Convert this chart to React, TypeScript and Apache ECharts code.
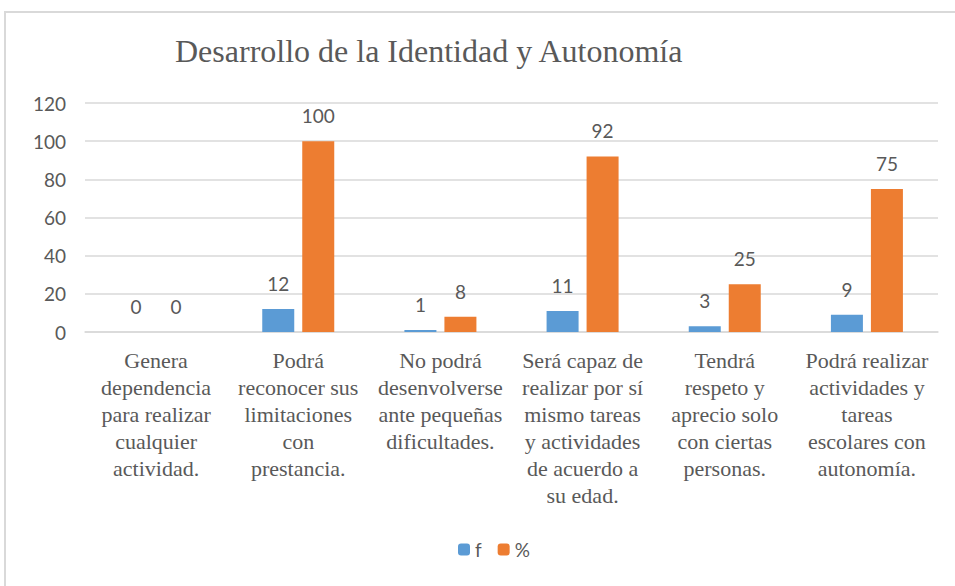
import React, { useEffect, useRef } from "react";
import * as echarts from "echarts";

const categories = [
  "Genera\ndependencia\npara realizar\ncualquier\nactividad.",
  "Podrá\nreconocer sus\nlimitaciones\ncon\nprestancia.",
  "No podrá\ndesenvolverse\nante pequeñas\ndificultades.",
  "Será capaz de\nrealizar por sí\nmismo tareas\ny actividades\nde acuerdo a\nsu edad.",
  "Tendrá\nrespeto y\naprecio solo\ncon ciertas\npersonas.",
  "Podrá realizar\nactividades y\ntareas\nescolares con\nautonomía.",
];
const fValues = [0, 12, 1, 11, 3, 9];
const pctValues = [0, 100, 8, 92, 25, 75];
const yTicks = { min: 0, max: 120, interval: 20 };

const TEXT = "#595959";
const SANS = "Lato, 'Open Sans', sans-serif";
const SERIF = "'Liberation Serif', 'DejaVu Serif', serif";

export default function App() {
  const ref = useRef<HTMLDivElement>(null);
  useEffect(() => {
    if (!ref.current) return;
    const chart = echarts.init(ref.current, undefined, { renderer: "svg" });
    const label = {
      show: true,
      position: "top",
      distance: 16,
      color: TEXT,
      fontSize: 19,
      fontFamily: SANS,
    };
    chart.setOption({
      animation: false,
      backgroundColor: "#ffffff",
      title: {
        text: "Desarrollo de la Identidad y Autonomía",
        left: 170,
        top: 30,
        textStyle: { fontFamily: SERIF, fontSize: 32, fontWeight: "normal", color: TEXT },
      },
      graphic: [
        {
          type: "rect",
          shape: { x: 5, y: 12, width: 970, height: 600 },
          style: { fill: "none", stroke: "#D9D9D9", lineWidth: 2 },
          silent: true,
        },
      ],
      legend: {
        bottom: 22,
        left: 453,
        itemWidth: 12,
        itemHeight: 12,
        itemGap: 16,
        textStyle: { color: TEXT, fontSize: 19, fontFamily: SANS },
        data: ["f", "%"],
      },
      grid: { left: 85, right: 17, top: 103, bottom: 254, containLabel: false },
      xAxis: {
        type: "category",
        data: categories,
        axisLine: { lineStyle: { color: "#D9D9D9", width: 1.5 } },
        axisTick: { show: false },
        axisLabel: {
          interval: 0,
          margin: 15,
          color: TEXT,
          fontSize: 22,
          lineHeight: 27,
          fontFamily: SERIF,
          align: "center",
          verticalAlign: "top",
        },
      },
      yAxis: {
        type: "value",
        min: yTicks.min,
        max: yTicks.max,
        interval: yTicks.interval,
        axisLine: { show: false },
        axisTick: { show: false },
        splitLine: { lineStyle: { color: "#D9D9D9", width: 1.5 } },
        axisLabel: { margin: 19, color: TEXT, fontSize: 19, fontFamily: SANS },
      },
      series: [
        {
          name: "f",
          type: "bar",
          data: fValues,
          barWidth: 32,
          barGap: "25%",
          itemStyle: { color: "#5B9BD5" },
          label,
        },
        {
          name: "%",
          type: "bar",
          data: pctValues,
          barWidth: 32,
          barGap: "25%",
          itemStyle: { color: "#ED7D31" },
          label,
        },
      ],
    });
    return () => chart.dispose();
  }, []);
  return (
    <div
      ref={ref}
      style={{ position: "fixed", left: 0, top: 0, width: 955, height: 586 }}
    />
  );
}
